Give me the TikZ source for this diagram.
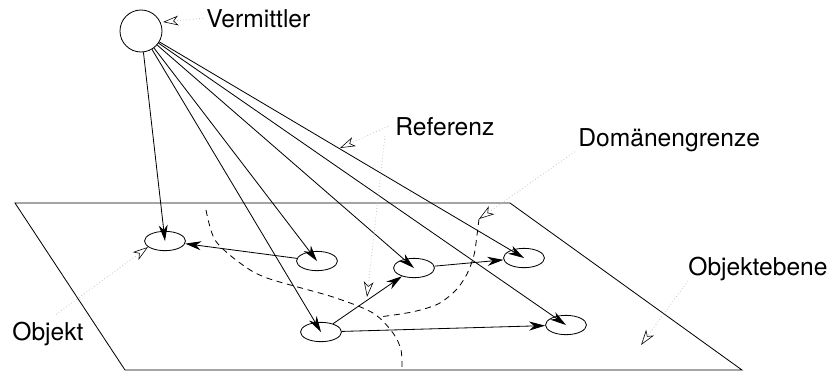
\documentclass[tikz,border=0pt]{standalone}
\usepackage{fontspec}
\setmainfont{TeX Gyre Heros}
\usetikzlibrary{arrows.meta,shapes.geometric}

\tikzset{
  broker/.style={draw, circle, inner sep=0pt, minimum size=12.6mm},
  obj/.style={draw, ellipse, inner sep=0pt, minimum width=12.3mm, minimum height=5.8mm},
  ref/.style={-{Stealth[length=4.8mm,width=2.7mm,inset=1.5mm]}},
  hint/.style={gray!45, dotted, -{Stealth[open,length=4.6mm,width=2.9mm,inset=1.3mm,color=black,line width=0.5pt]}},
  border/.style={dash pattern=on 1.8mm off 1.4mm},
  lbl/.style={anchor=base west, inner sep=0pt, font=\fontsize{21}{25}\selectfont},
}

\begin{document}
\begin{tikzpicture}[x=0.3mm, y=-0.3mm, line width=0.7pt]
  \useasboundingbox (0,0) rectangle (833,375);
  % object plane
  \draw (15,203) -- (510,203) -- (742,370) -- (125,370) -- cycle;
  % domain borders
  \draw[border] plot[smooth] coordinates {(206,210) (215,240) (240,263) (267,278) (333,297) (373,313) (393,333) (401,350) (402,370)};
  \draw[border] plot[smooth] coordinates {(479,219) (477,235) (474,255) (467,274) (456,290) (438,304) (412,312) (379,317)};

  \node[broker] (verm) at (141,31) {};
  \node[obj] (a) at (165,241) {};
  \node[obj] (b) at (317,261) {};
  \node[obj] (c) at (321,332) {};
  \node[obj] (d) at (414,268) {};
  \node[obj] (e) at (524,258) {};
  \node[obj] (f) at (566,325) {};

  % references
  \foreach \o in {a,b,c,d,e,f}
    \draw[ref] (verm) -- (\o.center);
  \draw[ref] (b) -- (a);
  \draw[ref] (c) -- (d);
  \draw[ref] (d) -- (e);
  \draw[ref] (c) -- (f);

  % labels
  \node[lbl] (tverm) at (206,27) {Vermittler};
  \node[lbl] (tref) at (395,135) {Referenz};
  \node[lbl] (tdom) at (578,146) {Domänengrenze};
  \node[lbl] (tebene) at (688,275) {Objektebene};
  \node[lbl] (tobj) at (12,340) {Objekt};

  \coordinate (pverm) at (163,22);
  \coordinate (pref1) at (340,148);
  \coordinate (pref2) at (367,297);
  \coordinate (pdom) at (479,219);
  \coordinate (pebene) at (641,345);
  \coordinate (pobj) at (148,247);
  \draw[hint] ([xshift=-0.9mm]tverm.west) -- (pverm);
  \draw[hint] ([xshift=-2mm]tref.west) -- (pref1);
  \draw[hint] ([xshift=-3mm]tref.south west) -- (pref2);
  \draw[hint] ([xshift=-1mm]tdom.south west) -- (pdom);
  \draw[hint] (tebene.south west) -- (pebene);
  \draw[hint] ([xshift=2.4mm,yshift=2mm]tobj.north) -- (pobj);
\end{tikzpicture}
\end{document}
